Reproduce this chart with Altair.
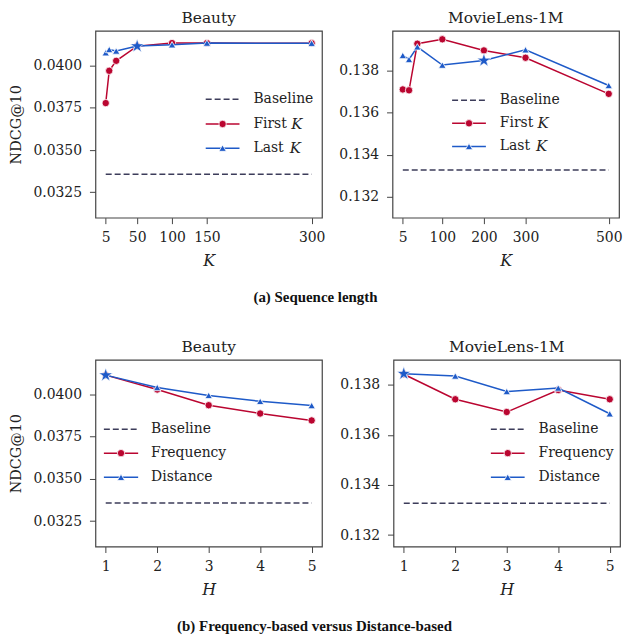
import altair as alt
import pandas as pd

# ---------------- data ----------------
beauty_k = [5, 10, 20, 50, 100, 150, 300]
beauty_first = [0.03778, 0.03969, 0.04028, 0.04115, 0.04133, 0.04133, 0.04132]
beauty_last = [0.04076, 0.04095, 0.04086, 0.04115, 0.04123, 0.04133, 0.04132]
beauty_base = 0.03357

ml_k = [5, 20, 40, 100, 200, 300, 500]
ml_first = [0.13711, 0.13707, 0.13929, 0.13950, 0.13897, 0.13862, 0.13690]
ml_last = [0.13873, 0.13854, 0.13914, 0.13827, 0.13849, 0.13900, 0.13730]
ml_base = 0.13327

h_vals = [1, 2, 3, 4, 5]
beauty_freq = [0.04114, 0.04029, 0.03936, 0.03887, 0.03846]
beauty_dist = [0.04114, 0.04041, 0.03994, 0.03959, 0.03934]
ml_freq = [0.13843, 0.13743, 0.13692, 0.13780, 0.13743]
ml_dist = [0.13845, 0.13836, 0.13774, 0.13788, 0.13685]

# starred (chosen) settings
star_beauty_k = [50]
star_beauty_k_y = [0.04115]
star_ml_k = [200]
star_ml_k_y = [0.13849]
star_beauty_h = [1]
star_beauty_h_y = [0.04114]
star_ml_h = [1]
star_ml_h_y = [0.13845]

beauty_k_ticks = [5, 50, 100, 150, 300]
ml_k_ticks = [5, 100, 200, 300, 500]
beauty_y_ticks = [0.0325, 0.0350, 0.0375, 0.0400]
ml_y_ticks = [0.132, 0.134, 0.136, 0.138]

RED = "#BA0530"
BLUE = "#1E5AC8"
BASE = "#3C3C5A"
SERIF = "DejaVu Serif"
STAR = ("M0,-1L0.2245,-0.309L0.951,-0.309L0.363,0.118L0.588,0.809L0,0.382"
        "L-0.588,0.809L-0.363,0.118L-0.951,-0.309L-0.2245,-0.309Z")

W, H = 228, 188


def panel(xs, s1, s2, base, sx, sy, xdom, xticks, ydom, yticks, yfmt,
          xtitle, title, names, italic_k, leg, ytitle):
    xsc = alt.Scale(domain=xdom, nice=False, zero=False)
    ysc = alt.Scale(domain=ydom, nice=False, zero=False)
    xax = alt.Axis(values=xticks, title=xtitle, labelAngle=0, format="d",
                   titleFontStyle="italic", titleFontSize=16, labelPadding=7,
                   titlePadding=8, grid=False)
    yax = alt.Axis(values=yticks, format=yfmt, title=ytitle if ytitle else None,
                   labelPadding=8, titlePadding=9, titleFontSize=14.5,
                   grid=False)

    d1 = pd.DataFrame({"x": xs, "y": s1})
    d2 = pd.DataFrame({"x": xs, "y": s2})
    db = pd.DataFrame({"x": [xs[0], xs[-1]], "y": [base, base]})
    ds = pd.DataFrame({"x": sx, "y": sy})

    X = alt.X("x:Q", scale=xsc, axis=xax)
    Y = alt.Y("y:Q", scale=ysc, axis=yax)

    baseline = alt.Chart(db).mark_line(color=BASE, strokeWidth=1.5,
                                       strokeDash=[6, 3]).encode(x=X, y=Y)
    l1 = alt.Chart(d1).mark_line(color=RED, strokeWidth=1.5).encode(x=X, y=Y)
    p1 = alt.Chart(d1).mark_point(shape="circle", filled=True, fill=RED,
                                  stroke="white", strokeWidth=0.8, size=55,
                                  opacity=1).encode(x=X, y=Y)
    l2 = alt.Chart(d2).mark_line(color=BLUE, strokeWidth=1.5).encode(x=X, y=Y)
    p2 = alt.Chart(d2).mark_point(shape="triangle-up", filled=True, fill=BLUE,
                                  stroke="white", strokeWidth=0.8, size=55,
                                  opacity=1).encode(x=X, y=Y)
    st = alt.Chart(ds).mark_point(shape=STAR, filled=True, fill=BLUE,
                                  stroke="white", strokeWidth=0.6, size=210,
                                  opacity=1).encode(x=X, y=Y)

    one = pd.DataFrame({"a": [0]})
    # panel title as text above the frame
    ttl = alt.Chart(one).mark_text(
        text=title, align="center", baseline="middle", font=SERIF,
        fontSize=15.5, color="#222"
    ).encode(x=alt.value(W / 2), y=alt.value(-13))

    # manual legend (inside plot)
    lx1, lx2, tx, rows = leg
    items = []
    cols = [BASE, RED, BLUE]
    for i, (nm, col, yy) in enumerate(zip(names, cols, rows)):
        rule = alt.Chart(one).mark_rule(
            color=col, strokeWidth=1.5,
            strokeDash=[6, 3] if i == 0 else [1, 0]
        ).encode(x=alt.value(lx1), x2=alt.value(lx2), y=alt.value(yy))
        items.append(rule)
        if i == 1:
            items.append(alt.Chart(one).mark_point(
                shape="circle", filled=True, fill=RED, stroke="white",
                strokeWidth=0.8, size=55, opacity=1
            ).encode(x=alt.value((lx1 + lx2) / 2), y=alt.value(yy)))
        if i == 2:
            items.append(alt.Chart(one).mark_point(
                shape="triangle-up", filled=True, fill=BLUE, stroke="white",
                strokeWidth=0.8, size=55, opacity=1
            ).encode(x=alt.value((lx1 + lx2) / 2), y=alt.value(yy)))
        items.append(alt.Chart(one).mark_text(
            text=nm, align="left", baseline="middle", font=SERIF,
            fontSize=14, color="#222"
        ).encode(x=alt.value(tx), y=alt.value(yy)))
        if italic_k and i > 0:
            off = 38 if i == 1 else 36.5
            items.append(alt.Chart(one).mark_text(
                text="K", align="left", baseline="middle", font=SERIF,
                fontSize=15, fontStyle="italic", color="#222"
            ).encode(x=alt.value(tx + off), y=alt.value(yy)))

    return alt.layer(baseline, l1, p1, l2, p2, st, ttl, *items).properties(
        width=W, height=H)


pa1 = panel(beauty_k, beauty_first, beauty_last, beauty_base,
            star_beauty_k, star_beauty_k_y, [-9.75, 314.75], beauty_k_ticks,
            [0.0310, 0.04205], beauty_y_ticks, ".4f", "K", "Beauty",
            ["Baseline", "First", "Last"], True,
            (111, 145, 159, [68.7, 93.7, 118]), "NDCG@10")
pa2 = panel(ml_k, ml_first, ml_last, ml_base,
            star_ml_k, star_ml_k_y, [-19.75, 524.75], ml_k_ticks,
            [0.1310, 0.1399], ml_y_ticks, ".3f", "K", "MovieLens-1M",
            ["Baseline", "First", "Last"], True,
            (60, 94, 108, [69.7, 93, 116.3]), None)
pb1 = panel(h_vals, beauty_freq, beauty_dist, beauty_base,
            star_beauty_h, star_beauty_h_y, [0.8, 5.2], h_vals,
            [0.0310, 0.04205], beauty_y_ticks, ".4f", "H", "Beauty",
            ["Baseline", "Frequency", "Distance"], False,
            (8.5, 43, 56, [70, 94, 118.3]), "NDCG@10")
pb2 = panel(h_vals, ml_freq, ml_dist, ml_base,
            star_ml_h, star_ml_h_y, [0.8, 5.2], h_vals,
            [0.13154, 0.13901], ml_y_ticks, ".3f", "H", "MovieLens-1M",
            ["Baseline", "Frequency", "Distance"], False,
            (98, 132, 146, [70, 94, 118.3]), None)


def caption(t):
    return alt.TitleParams(t, orient="bottom", anchor="middle",
                           font="Liberation Serif", fontSize=15,
                           fontWeight="bold", color="#111", offset=21)


rowA = alt.hconcat(pa1, pa2, spacing=12).properties(
    title=caption("(a) Sequence length"))
rowB = alt.hconcat(pb1, pb2, spacing=16).properties(
    title=caption("(b) Frequency-based versus Distance-based"))

chart = alt.vconcat(rowA, rowB, spacing=34).properties(
    background="white",
    padding={"left": 0, "right": 0, "top": 0, "bottom": 0},
).configure_view(
    stroke="#444", strokeWidth=1.2
).configure_axis(
    grid=False, domain=False, ticks=True, tickSize=6, tickColor="#444",
    tickWidth=1, labelFont=SERIF, labelFontSize=14, labelColor="#222",
    titleFont=SERIF, titleFontWeight="normal", titleColor="#222",
)

chart.save("out.html", embed_options={"renderer": "svg", "actions": False})
